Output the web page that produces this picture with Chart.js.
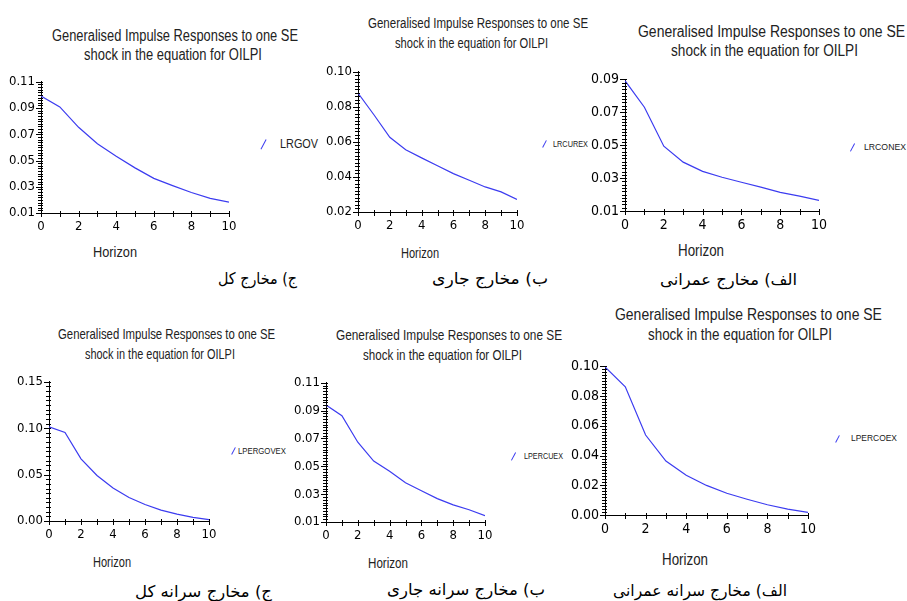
<!DOCTYPE html>
<html lang="en">
<head>
  <meta charset="UTF-8" />
  <title>Generalised Impulse Responses</title>
  <script src="https://cdn.jsdelivr.net/npm/chart.js"></script>
  <style>
    html, body {
      margin: 0;
      padding: 0;
      background: #fff;
      width: 907px;
      height: 601px;
      overflow: hidden;
      position: relative;
    }
    .txt {
      position: absolute;
      white-space: nowrap;
      transform-origin: 0 50%;
      font-family: "Liberation Sans", Arial, sans-serif;
      color: #222;
    }
    .cap {
      font-family: "DejaVu Sans", sans-serif;
      direction: rtl;
      color: #000;
    }
    .mark {
      position: absolute;
      width: 1.4px;
      background: #3c3cf0;
      transform: rotate(28deg);
    }
  </style>
</head>
<body>
  <script>
    // horizon and impulse responses
    const horizon = [0, 1, 2, 3, 4, 5, 6, 7, 8, 9, 10];
    const lrgov     = [0.0992, 0.0909, 0.0753, 0.0628, 0.0532, 0.0444, 0.0364, 0.0309, 0.0256, 0.0211, 0.0183];
    const lrcurex   = [0.0879, 0.0755, 0.0626, 0.0555, 0.0509, 0.0464, 0.0419, 0.0381, 0.0343, 0.0315, 0.0272];
    const lrconex   = [0.0892, 0.0731, 0.0494, 0.0397, 0.0341, 0.0305, 0.0275, 0.0245, 0.0213, 0.0190, 0.0164];
    const lpergovex = [0.1015, 0.0955, 0.0670, 0.0491, 0.0356, 0.0253, 0.0178, 0.0117, 0.0075, 0.0039, 0.0014];
    const lpercuex  = [0.0941, 0.0863, 0.0673, 0.0538, 0.0465, 0.0382, 0.0325, 0.0268, 0.0223, 0.0188, 0.0145];
    const lpercoex  = [0.0996, 0.0863, 0.0538, 0.0363, 0.0268, 0.0199, 0.0146, 0.0106, 0.0069, 0.0040, 0.0018];

    const seriesNames = ["LRGOV", "LRCUREX", "LRCONEX", "LPERGOVEX", "LPERCUEX", "LPERCOEX"];
    const seriesValues = [lrgov, lrcurex, lrconex, lpergovex, lpercuex, lpercoex];
    const titleLines = ["Generalised Impulse Responses to one SE", "shock in the equation for OILPI"];
    const xTitle = "Horizon";
    const captions = ["ج) مخارج کل", "ب) مخارج جاری", "الف) مخارج عمرانی",
                      "ج) مخارج سرانه کل", "ب) مخارج سرانه جاری", "الف) مخارج سرانه عمرانی"];
    // y ranges: min, max, labelled step, small-tick step
    const yMins   = [0.01, 0.02, 0.01, 0.00, 0.01, 0.00];
    const yMaxs   = [0.11, 0.10, 0.09, 0.15, 0.11, 0.10];
    const yMajors = [0.02, 0.02, 0.02, 0.05, 0.02, 0.02];
    const yMinors = [0.002, 0.002, 0.002, 0.005, 0.002, 0.002];

    // page layout of each panel (plot box, text boxes)
    const panels = [
      { l: 41, r: 229, t: 81, b: 213, fs: 13,
        title: [[52, 298, 36, 16], [84, 262, 55, 16]], hz: [93, 137, 252, 15],
        mk: [263, 139, 11], lg: [280, 318, 144, 13], cap: [218, 297, 279, 16] },
      { l: 358, r: 517, t: 71, b: 212, fs: 13,
        title: [[368, 588, 23, 14], [395, 548, 43, 14]], hz: [401, 439, 253, 14],
        mk: [544, 140, 8], lg: [553, 588, 144, 9], cap: [432, 548, 279, 16] },
      { l: 625, r: 819, t: 78, b: 211, fs: 14,
        title: [[638, 905, 32, 16], [671, 858, 51, 16]], hz: [678, 724, 251, 16],
        mk: [852, 143, 9], lg: [864, 906, 147, 9], cap: [660, 797, 280, 16] },
      { l: 49, r: 209, t: 381, b: 521, fs: 13,
        title: [[58, 275, 334, 15], [85, 235, 354, 15]], hz: [93, 131, 562, 14],
        mk: [233, 447, 8], lg: [238, 286, 451, 9], cap: [135, 272, 592, 16] },
      { l: 326, r: 485, t: 382, b: 522, fs: 13,
        title: [[336, 562, 335, 15], [363, 522, 355, 15]], hz: [368, 408, 563, 14],
        mk: [513, 452, 9], lg: [524, 563, 456, 9], cap: [387, 545, 590, 16] },
      { l: 605, r: 808, t: 365, b: 515, fs: 14,
        title: [[615, 882, 315, 17], [648, 832, 335, 17]], hz: [662, 708, 560, 16],
        mk: [837, 435, 8], lg: [851, 897, 438, 9], cap: [613, 787, 591, 16] }
    ];

    Chart.defaults.font.family = '"Liberation Sans Narrow", "DejaVu Sans Condensed", "Liberation Sans", Arial, sans-serif';
    Chart.defaults.color = "#000";

    // tick marks through the chart's scales: every horizon step on x,
    // long marks at labelled values and short ones between on y
    function tickMarks(yMin, yMax, major, minor) {
      return {
        id: "tickMarks",
        afterDraw(chart) {
          const ctx = chart.ctx;
          const area = chart.chartArea;
          const xs = chart.scales.x, ys = chart.scales.y;
          ctx.save();
          ctx.lineWidth = 1;
          ctx.strokeStyle = "#000";
          ctx.beginPath();
          horizon.forEach(h => {
            const px = Math.round(xs.getPixelForValue(h)) + 0.5;
            ctx.moveTo(px, area.bottom - 2);
            ctx.lineTo(px, area.bottom + 4);
          });
          const n = Math.round((yMax - yMin) / minor);
          const every = Math.round(major / minor);
          for (let k = 0; k <= n; k++) {
            const py = Math.round(ys.getPixelForValue(yMin + k * minor)) + 0.5;
            const big = k % every === 0;
            ctx.moveTo(area.left - (big ? 5 : 3), py);
            ctx.lineTo(area.left + 2, py);
          }
          ctx.stroke();
          ctx.restore();
        }
      };
    }

    // put a line of text in [x0, x1], centred on y
    function placeText(text, x0, x1, yc, size, extra) {
      const d = document.createElement("div");
      d.className = "txt" + (extra ? " " + extra : "");
      d.textContent = text;
      d.style.left = x0 + "px";
      d.style.top = (yc - size * 0.6) + "px";
      d.style.fontSize = size + "px";
      d.style.lineHeight = (size * 1.2) + "px";
      document.body.appendChild(d);
      const w = d.getBoundingClientRect().width;
      d.style.transform = "scaleX(" + ((x1 - x0) / w).toFixed(3) + ")";
      return d;
    }

    function makePanel(i) {
      const p = panels[i];
      const YW = 40, XH = 24, PT = 9, PR = 14;
      const yMin = yMins[i], yMax = yMaxs[i];

      const box = document.createElement("div");
      box.style.position = "absolute";
      box.style.left = (p.l - YW) + "px";
      box.style.top = (p.t - PT) + "px";
      box.style.width = (p.r - p.l + YW + PR) + "px";
      box.style.height = (p.b - p.t + PT + XH) + "px";
      const canvas = document.createElement("canvas");
      box.appendChild(canvas);
      document.body.appendChild(box);

      new Chart(canvas, {
        type: "line",
        data: {
          datasets: [{
            label: seriesNames[i],
            data: horizon.map((h, k) => ({ x: h, y: seriesValues[i][k] })),
            borderColor: "#3c3cf0",
            borderWidth: 1.2,
            pointRadius: 0,
            tension: 0,
            fill: false
          }]
        },
        options: {
          responsive: true,
          maintainAspectRatio: false,
          animation: false,
          layout: { padding: { top: PT, right: PR, left: 0, bottom: 0 } },
          plugins: { legend: { display: false }, tooltip: { enabled: false } },
          scales: {
            x: {
              type: "linear",
              min: 0,
              max: 10,
              afterFit: s => { s.height = XH; },
              border: { color: "#000", width: 1 },
              grid: { drawOnChartArea: false, tickLength: 4, color: "rgba(0,0,0,0)" },
              ticks: { stepSize: 2, autoSkip: false, maxRotation: 0, padding: 2, font: { size: p.fs } }
            },
            y: {
              min: yMin,
              max: yMax,
              afterFit: s => { s.width = YW; },
              border: { color: "#000", width: 1 },
              grid: { drawOnChartArea: false, tickLength: 4, color: "rgba(0,0,0,0)" },
              ticks: {
                stepSize: yMajors[i],
                autoSkip: false,
                padding: 2,
                font: { size: p.fs },
                callback: v => v.toFixed(2)
              }
            }
          }
        },
        plugins: [tickMarks(yMin, yMax, yMajors[i], yMinors[i])]
      });

      p.title.forEach((t, k) => placeText(titleLines[k], t[0], t[1], t[2], t[3]));
      placeText(xTitle, p.hz[0], p.hz[1], p.hz[2], p.hz[3]);
      placeText(seriesNames[i], p.lg[0], p.lg[1], p.lg[2], p.lg[3]);
      placeText(captions[i], p.cap[0], p.cap[1], p.cap[2], p.cap[3], "cap");

      const m = document.createElement("div");
      m.className = "mark";
      m.style.left = p.mk[0] + "px";
      m.style.top = p.mk[1] + "px";
      m.style.height = p.mk[2] + "px";
      document.body.appendChild(m);
    }

    for (let i = 0; i < panels.length; i++) makePanel(i);
  </script>
</body>
</html>
